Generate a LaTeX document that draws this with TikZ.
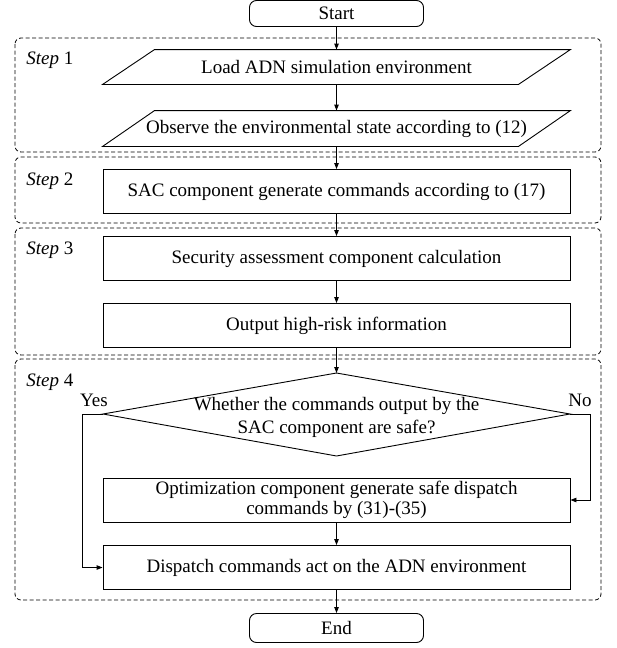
\documentclass[tikz,border=0pt]{standalone}
\usepackage{fontspec}
\setmainfont{Liberation Serif}
\usetikzlibrary{arrows.meta,calc}
\begin{document}
\begin{tikzpicture}[x=1pt,y=-1pt,
  font=\fontsize{19}{20}\selectfont,
  line width=0.9pt,
  box/.style={draw, minimum width=467pt, minimum height=44pt, inner sep=0pt, align=center},
  term/.style={draw, rounded corners=7pt, minimum width=174pt, inner sep=0pt},
  para/.style={minimum width=467pt, minimum height=35pt, inner sep=0pt},
  stepbox/.style={draw, dash pattern=on 4pt off 2.5pt, rounded corners=6pt, line width=0.8pt},
  flow/.style={-{Triangle[length=6pt,width=4.5pt]}},
  steplabel/.style={anchor=west, inner sep=0pt}
]
\useasboundingbox (0,0) rectangle (617,648);

% step frames
\draw[stepbox] (15,38) rectangle (601,152);
\draw[stepbox] (15,157) rectangle (601,223);
\draw[stepbox] (15,228) rectangle (601,355);
\draw[stepbox] (15,359) rectangle (601,600);

\node[steplabel] (s1) at (26,60) {\textit{Step} 1};
\node[steplabel] (s2) at (26,181) {\textit{Step} 2};
\node[steplabel] (s3) at (26,250) {\textit{Step} 3};
\node[steplabel] (s4) at (26,382) {\textit{Step} 4};

% nodes
\node[term, minimum height=26pt] (start) at (336.5,13.5) {Start};
\node[para, minimum height=34pt] (p1) at (336.5,67) {Load ADN simulation environment};
\node[para] (p2) at (336.5,128.5) {Observe the environmental state according to (12)};
\foreach \p in {p1,p2}{
  \draw ($(\p.north west)+(52,0)$) -- (\p.north east) -- ($(\p.south east)+(-52,0)$) -- (\p.south west) -- cycle;
}
\node[box] (sac) at (336.5,191.5) {SAC component generate commands according to (17)};
\node[box] (sec) at (336.5,258.5) {Security assessment component calculation};
\node[box] (out) at (336.5,325.5) {Output high-risk information};

\coordinate (dt) at (336.5,373);
\coordinate (db) at (336.5,456);
\coordinate (dl) at (103,414);
\coordinate (dr) at (570,414);
\draw (dt) -- (dr) -- (db) -- (dl) -- cycle;
\node[align=center, inner sep=0pt, font=\fontsize{19}{23}\selectfont] (dq) at (336.5,417) {Whether the commands output by the\\SAC component are safe?};

\node[box, font=\fontsize{19}{20}\selectfont] (opt) at (336.5,500) {Optimization component generate safe dispatch\\commands by (31)-(35)};
\node[box] (dis) at (336.5,567.5) {Dispatch commands act on the ADN environment};
\node[term, minimum height=29pt] (end) at (336.5,628) {End};

\node[inner sep=0pt] (yes) at (94,400) {Yes};
\node[inner sep=0pt] (no) at (580,400) {No};

% connectors
\draw[flow] (start) -- (p1);
\draw[flow] (p1) -- (p2);
\draw[flow] (p2) -- (sac);
\draw[flow] (sac) -- (sec);
\draw[flow] (sec) -- (out);
\draw[flow] (out) -- (dt);
\draw[flow] (opt) -- (dis);
\draw[flow] (dis) -- (end);
\coordinate (yl) at (82,414);
\coordinate (nr) at (590,414);
\draw[flow] (dl) -- (yl) |- (dis.west);
\draw[flow] (dr) -- (nr) |- (opt.east);
\end{tikzpicture}
\end{document}
